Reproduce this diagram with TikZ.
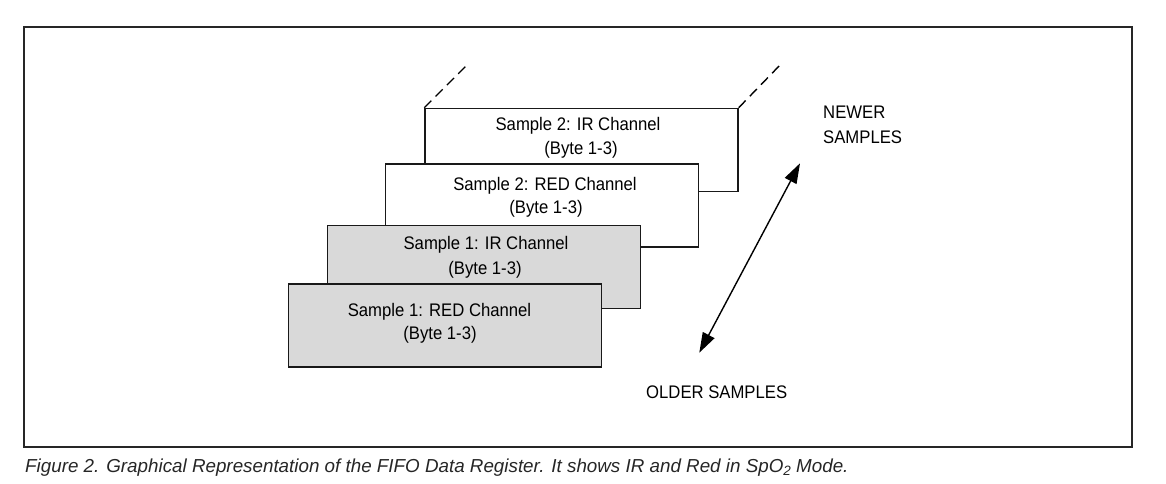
\documentclass[tikz,border=0pt]{standalone}
\usepackage{fontspec}
\setmainfont{Liberation Sans}
\newfontfamily\narrowfont[FakeStretch=0.917]{Liberation Sans}
\usetikzlibrary{arrows.meta,calc}
\begin{document}
\begin{tikzpicture}[x=1pt,y=-1pt,
  box/.style={draw=black!90, line width=1.4pt, anchor=north west, inner sep=0pt,
              minimum width=313pt, minimum height=83pt},
  front/.style={box, fill=gray!30},
  back/.style={box, fill=white},
  lbl/.style={anchor=base, inner sep=0pt, font=\narrowfont\fontsize{18.2}{22}\selectfont},
  sidelbl/.style={anchor=base west, inner sep=0pt, font=\narrowfont\fontsize{18.2}{22}\selectfont},
  dashline/.style={draw=black, line width=1.4pt, dash pattern=on 10pt off 6pt},
  dblarrow/.style={draw=black, line width=1.4pt, {Triangle[length=20pt,width=13pt]}-{Triangle[length=20pt,width=13pt]}},
  frame/.style={draw=black!85, line width=1.6pt}
]
\useasboundingbox (0,0) rectangle (1166,484);
\coordinate (fa) at (24,27);
\coordinate (fb) at (1132,446.7);
\draw[frame] (fa) rectangle (fb);

% top back box with dashed continuation
\node[back] (ir2) at (424.3,107.7) {};
\coordinate (d1) at (469,63);
\coordinate (d2) at (782,63);
\draw[dashline] (ir2.north west) -- (d1);
\draw[dashline] (ir2.north east) -- (d2);
\node[lbl] (ir2a) at (578,131) {Sample 2: IR Channel};
\node[lbl] (ir2b) at (581,154.3) {(Byte 1-3)};

\node[back] (red2) at (385,163.3) {};
\node[lbl] (red2a) at (545,190) {Sample 2: RED Channel};
\node[lbl] (red2b) at (546,213.3) {(Byte 1-3)};

\node[front] (ir1) at (326.7,225) {};
\node[lbl] (ir1a) at (486,249.3) {Sample 1: IR Channel};
\node[lbl] (ir1b) at (485,274) {(Byte 1-3)};

\node[front] (red1) at (287.7,283.3) {};
\node[lbl] (red1a) at (439.5,316.7) {Sample 1: RED Channel};
\node[lbl] (red1b) at (440,339) {(Byte 1-3)};

% arrow
\coordinate (aold) at (699.3,352.7);
\coordinate (anew) at (800,163.3);
\draw[dblarrow] (aold) -- (anew);

\node[sidelbl] (newer) at (823,118.5) {NEWER};
\node[sidelbl] (samp) at (823,143.5) {SAMPLES};
\node[sidelbl] (older) at (646,398) {OLDER SAMPLES};

\node[anchor=base west, inner sep=0pt, text=black!85, font=\fontsize{18.8}{22}\selectfont\itshape] (cap) at (25,472)
  {Figure 2. Graphical Representation of the FIFO Data Register. It shows IR and Red in SpO\raisebox{-0.35ex}{\fontsize{13.5}{15}\selectfont 2} Mode.};
\end{tikzpicture}
\end{document}
